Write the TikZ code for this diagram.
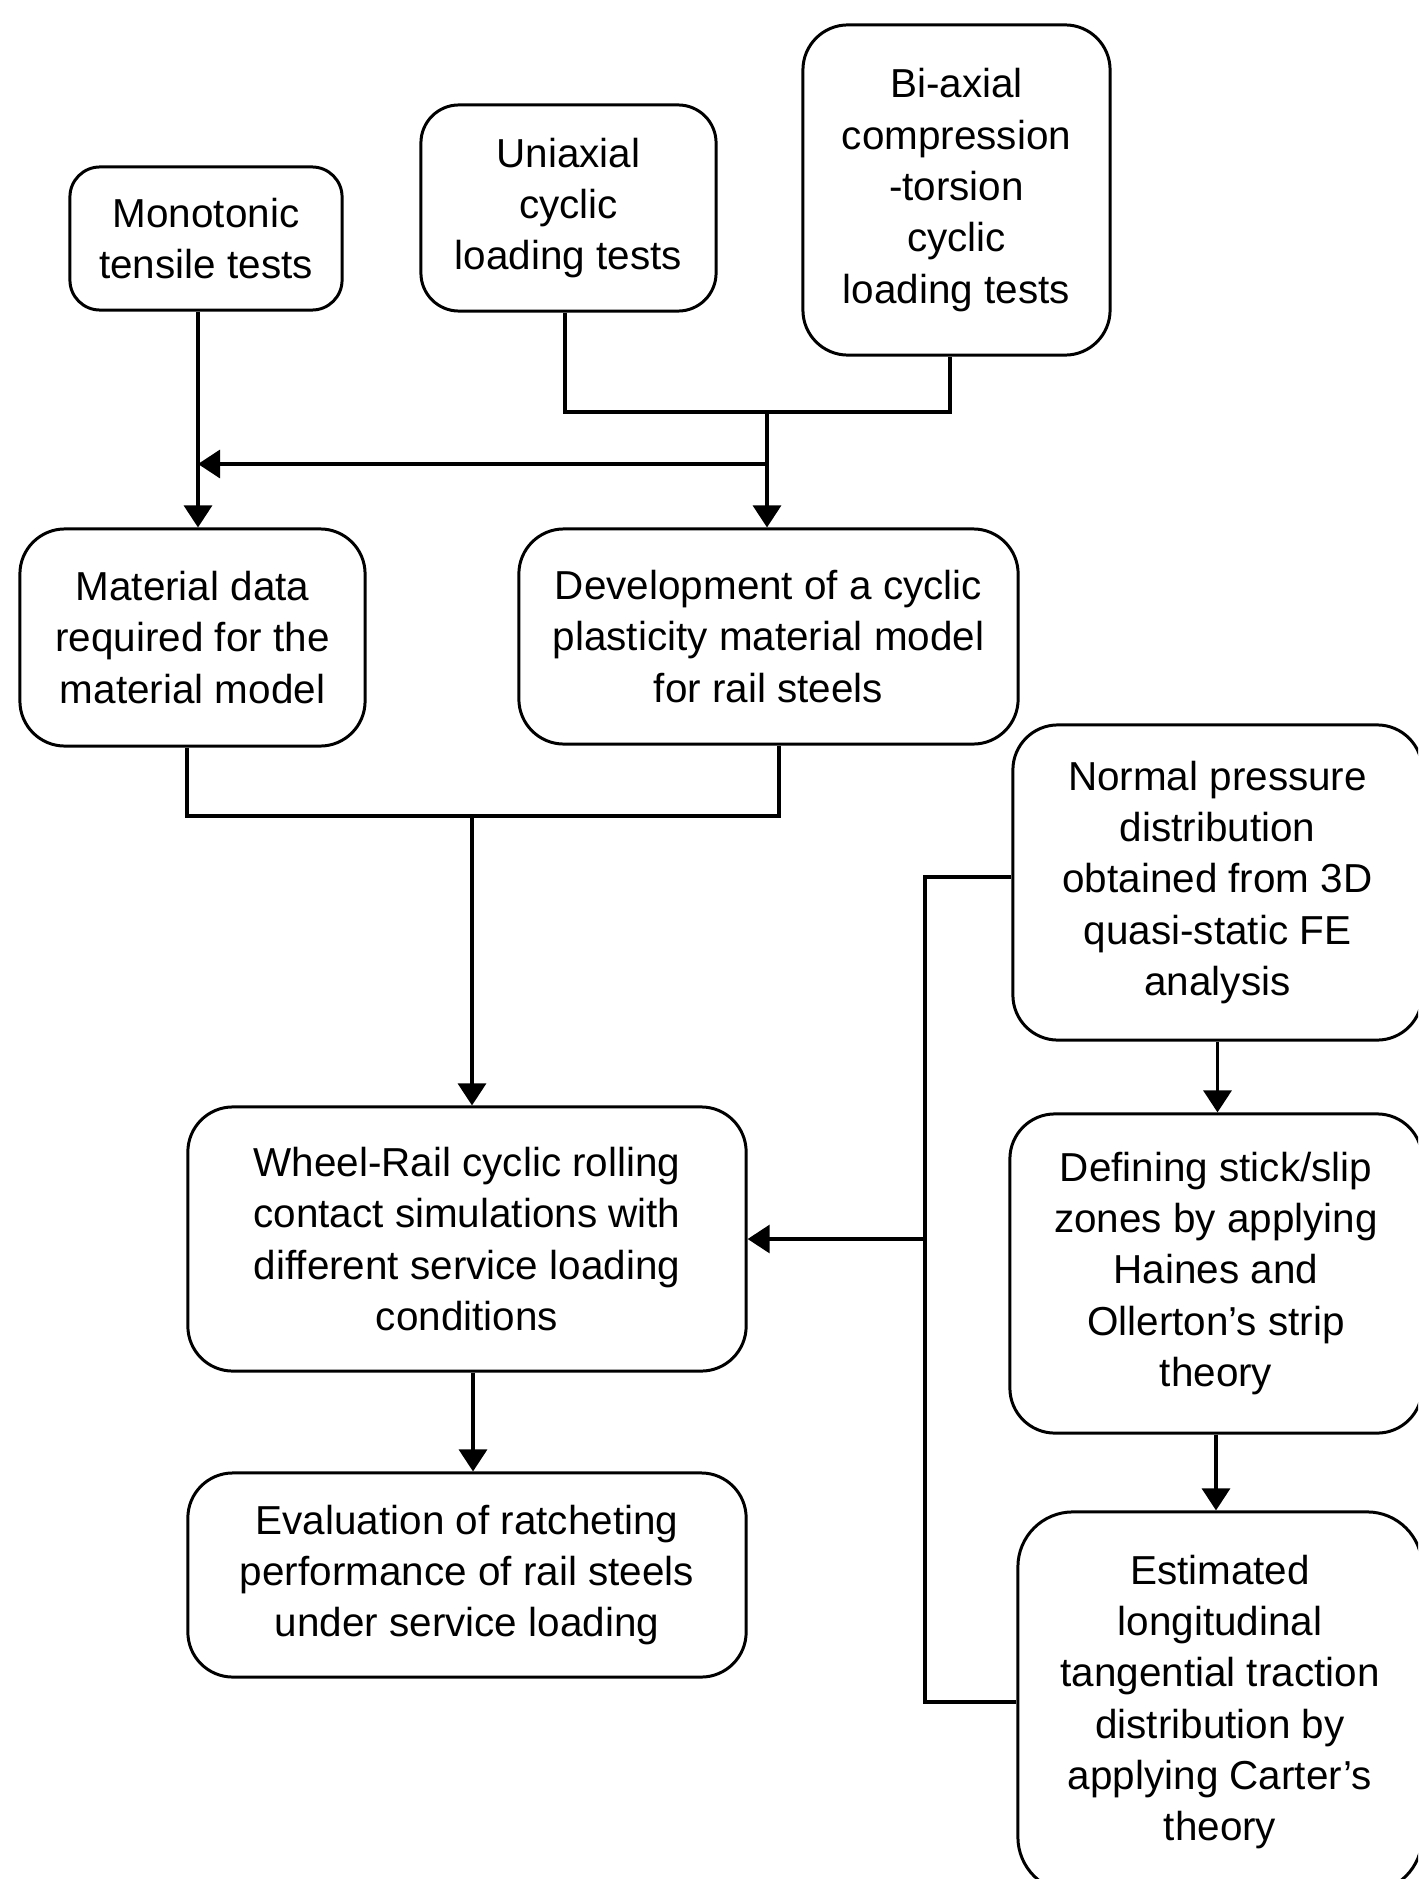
\documentclass[tikz,border=0pt]{standalone}
\usepackage{fontspec}
\setmainfont{Liberation Sans}
\usetikzlibrary{arrows.meta}
\tikzset{
  procbox/.style={draw, line width=0.85pt, rounded corners=0.45cm, align=center, inner sep=0pt,
    font=\fontsize{11.5}{14.6}\selectfont},
  flow/.style={line width=0.9pt},
  flowarrow/.style={flow, -{Triangle[length=2.2mm,width=2.8mm]}}
}

\begin{document}
\begin{tikzpicture}[x=0.01cm,y=-0.01cm]

\useasboundingbox (0,0) rectangle (1418,1879);
\clip (0,0) rectangle (1418,1879);

% test boxes
\node[procbox,rounded corners=0.3cm,minimum width=2.72cm,minimum height=1.43cm] (mono) at (206,238.5) {Monotonic\\tensile tests};
\node[procbox,rounded corners=0.38cm,minimum width=2.95cm,minimum height=2.06cm] (uni) at (568.5,208) {Uniaxial\\cyclic\\loading tests};
\node[procbox,minimum width=3.07cm,minimum height=3.30cm] (bi) at (956.5,190) {Bi-axial\\compression\\-torsion\\cyclic\\loading tests};

% model boxes
\node[procbox,minimum width=3.45cm,minimum height=2.17cm] (mat) at (192.5,637.5) {Material data\\required for the\\material model};
\node[procbox,minimum width=4.99cm,minimum height=2.15cm] (dev) at (768.5,636.5) {Development of a cyclic\\plasticity material model\\for rail steels};

% simulation and evaluation
\node[procbox,minimum width=5.58cm,minimum height=2.64cm] (wheel) at (467,1239) {Wheel-Rail cyclic rolling\\contact simulations with\\different service loading\\conditions};
\node[procbox,minimum width=5.58cm,minimum height=2.04cm] (eval) at (467,1575) {Evaluation of ratcheting\\performance of rail steels\\under service loading};

% contact load boxes
\node[procbox,minimum width=4.09cm,minimum height=3.15cm] (norm) at (1217.5,882.5) {Normal pressure\\distribution\\obtained from 3D\\quasi-static FE\\analysis};
\node[procbox,minimum width=4.12cm,minimum height=3.19cm] (defi) at (1216,1273.5) {Defining stick/slip\\zones by applying\\Haines and\\Ollerton’s strip\\theory};
\node[procbox,rounded corners=0.55cm,minimum width=4.04cm,minimum height=3.80cm] (esti) at (1220,1702) {Estimated\\longitudinal\\tangential traction\\distribution by\\applying Carter’s\\theory};

\coordinate (tj) at (767,412);
\coordinate (tm) at (767,464);
\coordinate (mj) at (472,816);
\coordinate (rj) at (925,1239);
\coordinate (mono-out) at ([xshift=-0.08cm]mono.south);

\draw[flowarrow] (mono-out) -- (mono-out |- mat.north);
\draw[flow] ([xshift=-0.035cm]uni.south) |- (tj) -| ([xshift=-0.065cm]bi.south);
\draw[flowarrow] (tj) -- (tj |- dev.north);
\draw[flowarrow] (tm) -- (tm -| mono-out);

\draw[flow] ([xshift=-0.055cm]mat.south) |- (mj) -| ([xshift=0.105cm]dev.south);
\draw[flowarrow] (mj) -- (mj |- wheel.north);
\draw[flowarrow] ([xshift=0.06cm]wheel.south) -- ([xshift=0.06cm]eval.north);

\draw[flow] ([yshift=0.055cm]norm.west) -| (rj) |- (esti.west);
\draw[flowarrow] (rj) -- (wheel.east);
\draw[flowarrow] (norm.south) -- (norm.south |- defi.north);
\draw[flowarrow] (defi.south) -- (defi.south |- esti.north);

\end{tikzpicture}
\end{document}
